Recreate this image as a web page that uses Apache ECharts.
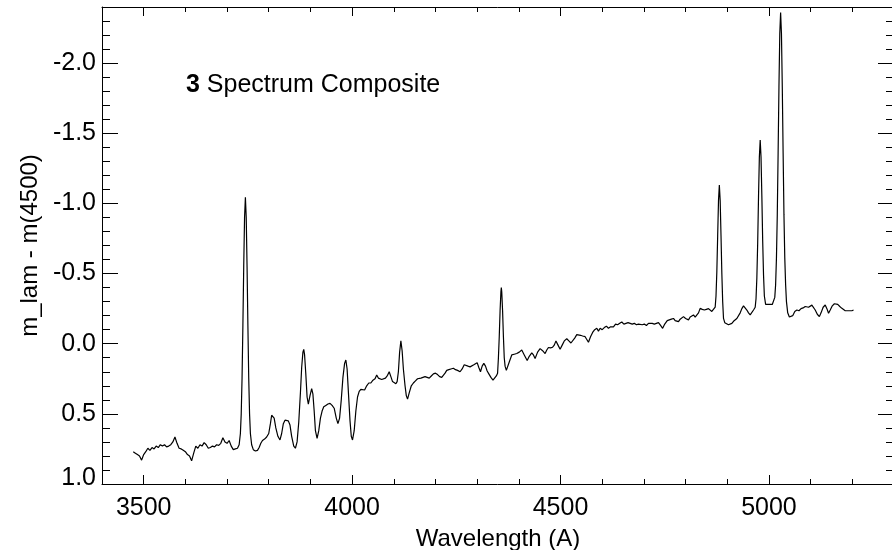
<!DOCTYPE html>
<html>
<head>
<meta charset="utf-8">
<script src="https://cdn.jsdelivr.net/npm/echarts@6/dist/echarts.min.js"></script>
<style>
  html, body { margin: 0; padding: 0; background: #fff; }
  #chart { width: 892px; height: 550px; }
</style>
</head>
<body>
<div id="chart"></div>
<script>
// wavelength (A) and m_lam - m(4500)
const wavelength = [
  3475, 3480, 3485, 3490, 3495, 3500, 3505, 3510, 3515, 3520, 3525, 3530, 3535, 3540, 3545, 3550,
  3555, 3560, 3565, 3570, 3575, 3580, 3585, 3590, 3595, 3600, 3605, 3610, 3615, 3620, 3625, 3630,
  3635, 3640, 3645, 3650, 3655, 3660, 3665, 3670, 3675, 3680, 3685, 3690, 3695, 3700, 3705, 3710,
  3715, 3720, 3725, 3729, 3732, 3734, 3736, 3738, 3740, 3742, 3744, 3746, 3748, 3750, 3752, 3754,
  3756, 3759, 3763, 3768, 3773, 3777, 3781, 3785, 3790, 3795, 3800, 3804, 3807, 3810, 3813, 3817,
  3822, 3827, 3831, 3835, 3839, 3843, 3847, 3851, 3855, 3860, 3864, 3868, 3872, 3876, 3879, 3882,
  3884, 3886, 3889, 3892, 3895, 3899, 3903, 3906, 3909, 3912, 3916, 3920, 3924, 3928, 3932, 3937,
  3942, 3947, 3952, 3957, 3962, 3966, 3970, 3974, 3978, 3982, 3985, 3988, 3991, 3995, 3998, 4001,
  4005, 4009, 4013, 4017, 4021, 4025, 4030, 4035, 4040, 4045, 4050, 4055, 4059, 4063, 4067, 4071,
  4075, 4080, 4085, 4089, 4093, 4097, 4101, 4105, 4108, 4111, 4114, 4117, 4120, 4123, 4127, 4130,
  4133, 4137, 4142, 4147, 4152, 4157, 4161, 4165, 4170, 4175, 4180, 4185, 4190, 4195, 4200, 4205,
  4210, 4215, 4219, 4223, 4227, 4232, 4237, 4243, 4248, 4253, 4259, 4264, 4269, 4273, 4278, 4283,
  4287, 4292, 4296, 4300, 4304, 4308, 4312, 4316, 4320, 4324, 4328, 4333, 4338, 4342, 4346, 4349,
  4351, 4353, 4355, 4357, 4358, 4359, 4361, 4363, 4365, 4367, 4370, 4373, 4377, 4383, 4389, 4395,
  4401, 4407, 4413, 4420, 4425, 4431, 4435, 4439, 4445, 4451, 4457, 4463, 4467, 4471, 4476, 4481,
  4485, 4489, 4494, 4499, 4504, 4509, 4515, 4520, 4525, 4529, 4534, 4539, 4543, 4548, 4553, 4559,
  4563, 4567, 4572, 4577, 4582, 4587, 4591, 4595, 4600, 4605, 4610, 4615, 4620, 4627, 4632, 4637,
  4642, 4647, 4652, 4657, 4662, 4667, 4672, 4677, 4682, 4687, 4691, 4696, 4701, 4706, 4711, 4715,
  4720, 4725, 4730, 4735, 4740, 4745, 4750, 4756, 4761, 4766, 4771, 4775, 4779, 4783, 4787, 4791,
  4795, 4800, 4804, 4807, 4811, 4815, 4819, 4823, 4827, 4831, 4835, 4840, 4845, 4850, 4855, 4859,
  4863, 4867, 4871, 4873, 4875, 4877, 4879, 4881, 4883, 4885, 4887, 4889, 4891, 4894, 4898, 4903,
  4907, 4911, 4915, 4919, 4923, 4927, 4931, 4935, 4939, 4943, 4947, 4951, 4955, 4959, 4963, 4967,
  4969, 4971, 4973, 4975, 4977, 4979, 4981, 4983, 4985, 4987, 4989, 4992, 4996, 5000, 5004, 5008,
  5012, 5014, 5016, 5018, 5020, 5022, 5024, 5026, 5028, 5030, 5032, 5034, 5036, 5038, 5040, 5042,
  5045, 5049, 5052, 5057, 5062, 5067, 5072, 5077, 5082, 5087, 5091, 5095, 5099, 5103, 5107, 5111,
  5116, 5121, 5125, 5130, 5135, 5139, 5143, 5147, 5152, 5157, 5161, 5165, 5170, 5175, 5179, 5183,
  5187, 5191, 5195, 5199, 5203
];
const magDiff = [
  0.77, 0.78, 0.79, 0.80, 0.83, 0.79, 0.77, 0.745, 0.76, 0.74, 0.75, 0.73, 0.74, 0.72, 0.73, 0.72,
  0.735, 0.73, 0.72, 0.70, 0.665, 0.71, 0.745, 0.75, 0.76, 0.77, 0.79, 0.80, 0.835, 0.78, 0.73, 0.745,
  0.72, 0.73, 0.705, 0.72, 0.745, 0.74, 0.73, 0.735, 0.72, 0.725, 0.71, 0.67, 0.70, 0.71, 0.69, 0.73,
  0.755, 0.75, 0.745, 0.72, 0.64, 0.50, 0.245, -0.13, -0.55, -0.90, -1.044, -0.90, -0.55, -0.13, 0.245, 0.50,
  0.64, 0.72, 0.755, 0.765, 0.76, 0.74, 0.71, 0.69, 0.68, 0.665, 0.64, 0.57, 0.51, 0.496, 0.53, 0.60,
  0.66, 0.686, 0.64, 0.57, 0.545, 0.55, 0.55, 0.58, 0.66, 0.73, 0.745, 0.70, 0.56, 0.35, 0.17, 0.06,
  0.04, 0.08, 0.22, 0.38, 0.43, 0.37, 0.32, 0.36, 0.48, 0.62, 0.674, 0.62, 0.53, 0.48, 0.45, 0.44,
  0.43, 0.425, 0.44, 0.46, 0.53, 0.57, 0.53, 0.40, 0.24, 0.14, 0.116, 0.18, 0.34, 0.55, 0.66, 0.686,
  0.62, 0.48, 0.38, 0.34, 0.325, 0.32, 0.33, 0.30, 0.28, 0.28, 0.26, 0.25, 0.223, 0.245, 0.25, 0.255,
  0.26, 0.245, 0.225, 0.20, 0.235, 0.27, 0.28, 0.285, 0.27, 0.20, 0.06, -0.02, 0.05, 0.18, 0.30, 0.37,
  0.395, 0.35, 0.30, 0.28, 0.265, 0.25, 0.24, 0.245, 0.24, 0.235, 0.24, 0.245, 0.23, 0.215, 0.21, 0.22,
  0.235, 0.24, 0.25, 0.21, 0.19, 0.185, 0.18, 0.175, 0.185, 0.19, 0.20, 0.18, 0.15, 0.145, 0.16, 0.165,
  0.17, 0.15, 0.14, 0.135, 0.17, 0.20, 0.16, 0.14, 0.16, 0.195, 0.215, 0.24, 0.26, 0.255, 0.23, 0.21,
  0.10, -0.05, -0.235, -0.37, -0.40, -0.37, -0.235, -0.05, 0.10, 0.16, 0.19, 0.20, 0.13, 0.08, 0.075, 0.07,
  0.06, 0.045, 0.08, 0.12, 0.09, 0.065, 0.08, 0.105, 0.06, 0.035, 0.05, 0.07, 0.045, 0.027, 0.03, 0.025,
  0.01, -0.02, 0.01, 0.04, 0.01, -0.02, -0.035, -0.02, -0.005, -0.005, -0.04, -0.065, -0.075, -0.06, -0.055, -0.05,
  -0.03, -0.01, -0.05, -0.08, -0.10, -0.11, -0.09, -0.11, -0.10, -0.115, -0.125, -0.11, -0.12, -0.12, -0.14, -0.135,
  -0.145, -0.155, -0.14, -0.145, -0.15, -0.145, -0.14, -0.145, -0.135, -0.14, -0.14, -0.135, -0.14, -0.13, -0.145, -0.14,
  -0.145, -0.14, -0.145, -0.15, -0.13, -0.11, -0.14, -0.165, -0.17, -0.175, -0.18, -0.165, -0.16, -0.157, -0.175, -0.18,
  -0.193, -0.18, -0.17, -0.17, -0.19, -0.20, -0.205, -0.19, -0.18, -0.22, -0.252, -0.245, -0.24, -0.245, -0.25, -0.245,
  -0.23, -0.217, -0.26, -0.34, -0.515, -0.77, -1.02, -1.131, -1.02, -0.77, -0.50, -0.30, -0.18, -0.15, -0.14, -0.135,
  -0.13, -0.145, -0.16, -0.17, -0.18, -0.193, -0.22, -0.25, -0.27, -0.26, -0.24, -0.22, -0.205, -0.21, -0.24, -0.26,
  -0.32, -0.47, -0.72, -1.05, -1.33, -1.452, -1.33, -1.05, -0.73, -0.49, -0.34, -0.28, -0.27, -0.28, -0.27, -0.28,
  -0.29, -0.33, -0.42, -0.61, -0.92, -1.36, -1.83, -2.21, -2.36, -2.21, -1.83, -1.36, -0.92, -0.61, -0.42, -0.30,
  -0.22, -0.19, -0.18, -0.20, -0.23, -0.24, -0.235, -0.25, -0.255, -0.265, -0.276, -0.26, -0.27, -0.275, -0.264, -0.24,
  -0.21, -0.193, -0.22, -0.26, -0.276, -0.25, -0.217, -0.24, -0.27, -0.285, -0.293, -0.28, -0.265, -0.252, -0.26, -0.235,
  -0.221, -0.235, -0.245, -0.235, -0.24
];

const xMajor = [3500, 4000, 4500, 5000];
const yMajor = [-2.0, -1.5, -1.0, -0.5, 0.0, 0.5, 1.0];

const font = 'Liberation Sans';
const black = '#000';

let spectrum = wavelength.map(function (w, i) { return [w, magDiff[i]] });

function xAx (pos, major, showLine) {
  return {
    type: 'value', position: pos, min: 3400, max: 5300,
    interval: 100,
    axisLine: { show: showLine, onZero: false, lineStyle: { color: black, width: 1 } },
    axisTick: major
      ? { show: true, inside: true, length: 9, customValues: xMajor, lineStyle: { color: black } }
      : { show: true, inside: true, length: 5, lineStyle: { color: black } },
    axisLabel: { show: false },
    splitLine: { show: false }
  }
}

function yAx (pos, major, showLine) {
  return {
    type: 'value', position: pos, min: -2.4, max: 1.0, inverse: true,
    interval: 0.1,
    axisLine: { show: showLine, onZero: false, lineStyle: { color: black, width: 1 } },
    axisTick: major
      ? { show: true, inside: true, length: 16, customValues: yMajor, lineStyle: { color: black } }
      : { show: true, inside: true, length: 8, lineStyle: { color: black } },
    axisLabel: { show: false },
    splitLine: { show: false }
  }
}

let xBottom = xAx('bottom', true, true)
xBottom.axisLabel = {
  show: true, customValues: xMajor, margin: 12,
  color: black, fontFamily: font, fontSize: 25,
  formatter: function (v) { return String(v) }
}
xBottom.name = 'Wavelength (A)'
xBottom.nameLocation = 'middle'
xBottom.nameGap = 43
xBottom.nameTextStyle = { color: black, fontFamily: font, fontSize: 24 }

let yLeft = yAx('left', true, true)
yLeft.axisLabel = {
  show: true, customValues: yMajor, margin: 6,
  color: black, fontFamily: font, fontSize: 25,
  formatter: function (v) {
    // the bottom label sits a little above its tick
    return v > 0.99 ? '{lo|' + v.toFixed(1) + '}' : v.toFixed(1)
  },
  rich: {
    lo: { color: black, fontFamily: font, fontSize: 25, padding: [0, 0, 12, 0] }
  }
}
yLeft.name = 'm_lam - m(4500)'
yLeft.nameLocation = 'middle'
yLeft.nameGap = 60
yLeft.nameTextStyle = { color: black, fontFamily: font, fontSize: 24 }

let option = {
  animation: false,
  backgroundColor: '#fff',
  title: {
    text: '{b|3} Spectrum Composite',
    left: 186, top: 73, padding: 0,
    textStyle: {
      color: black, fontFamily: font, fontSize: 25, fontWeight: 'normal',
      rich: { b: { color: black, fontFamily: font, fontSize: 25, fontWeight: 'bold' } }
    }
  },
  grid: {
    left: 102, top: 7, width: 792, height: 477,
    containLabel: false, outerBoundsMode: 'none'
  },
  xAxis: [
    xBottom,
    xAx('bottom', false, false),
    xAx('top', true, true),
    xAx('top', false, false)
  ],
  yAxis: [
    yLeft,
    yAx('left', false, false),
    yAx('right', true, true),
    yAx('right', false, false)
  ],
  series: [{
    type: 'line',
    data: spectrum,
    xAxisIndex: 0,
    yAxisIndex: 0,
    showSymbol: false,
    smooth: false,
    lineStyle: { color: black, width: 1.2 }
  }]
}

let myChart = echarts.init(document.getElementById('chart'))
myChart.setOption(option)
</script>
</body>
</html>
